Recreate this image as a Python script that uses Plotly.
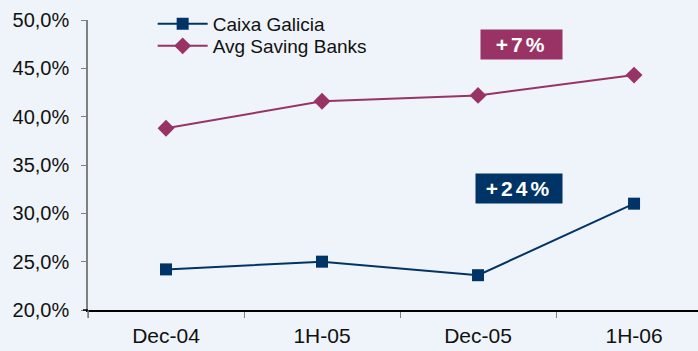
import plotly.graph_objects as go

periods = ["Dec-04", "1H-05", "Dec-05", "1H-06"]
caixa = [24.2, 25.0, 23.6, 31.0]
avg_savings = [38.8, 41.6, 42.2, 44.3]
y_ticks = [20, 25, 30, 35, 40, 45, 50]
y_tick_labels = ["20,0%", "25,0%", "30,0%", "35,0%", "40,0%", "45,0%", "50,0%"]

NAVY = "#003366"
PLUM = "#993366"
FONT = "Liberation Sans, Arial, sans-serif"

fig = go.Figure()
fig.add_trace(go.Scatter(
    x=periods, y=caixa, name="Caixa Galicia", mode="lines+markers",
    line=dict(color=NAVY, width=2),
    marker=dict(symbol="square", size=12, color=NAVY),
    legend="legend",
))
fig.add_trace(go.Scatter(
    x=periods, y=avg_savings, name="Avg Saving Banks", mode="lines+markers",
    line=dict(color=PLUM, width=2),
    marker=dict(symbol="diamond", size=13, color=PLUM),
    legend="legend2",
))

fig.add_annotation(
    x=2.276, y=47.46, xref="x", yref="y", showarrow=False,
    text="<b><span style='letter-spacing:3px'>+7%</span></b>",
    font=dict(family=FONT, size=21, color="white"),
    bgcolor=PLUM, width=75, height=23, borderpad=3,
)
fig.add_annotation(
    x=2.263, y=32.57, xref="x", yref="y", showarrow=False,
    text="<b><span style='letter-spacing:3px'>+24%</span></b>",
    font=dict(family=FONT, size=21, color="white"),
    bgcolor=NAVY, width=80, height=23, borderpad=3,
)

# small axis-line extensions past the origin, as in the reference
fig.add_shape(type="line", xref="paper", yref="paper",
              x0=0, x1=0, y0=0, y1=-8 / 290,
              line=dict(color="#808080", width=1.5))
fig.add_shape(type="line", xref="paper", yref="paper",
              x0=-5 / 610, x1=0, y0=0, y1=0,
              line=dict(color="#000000", width=1.5))

leg_common = dict(
    xanchor="left", yanchor="middle",
    bgcolor="rgba(0,0,0,0)", font=dict(size=19),
    itemwidth=50,
)

fig.update_layout(
    width=698, height=351,
    margin=dict(l=88, r=0, t=20, b=41, autoexpand=False),
    paper_bgcolor="#eef4fa",
    plot_bgcolor="#eef4fa",
    font=dict(family=FONT, size=20, color="#111111"),
    showlegend=True,
    legend=dict(x=0.106, y=1.0 - (24 - 20) / 290, **leg_common),
    legend2=dict(x=0.106, y=1.0 - (46 - 20) / 290, **leg_common),
    xaxis=dict(
        type="category", range=[-0.5, 3.41], automargin=False,
        showline=True, linecolor="#000000", linewidth=1.5,
        ticks="outside", tickson="boundaries", ticklen=6, tickcolor="#808080",
        showgrid=False, zeroline=False,
        tickfont=dict(size=21), ticklabelstandoff=6,
    ),
    yaxis=dict(
        range=[20, 50], tickvals=y_ticks, ticktext=y_tick_labels,
        automargin=False,
        showline=True, linecolor="#808080", linewidth=1.5,
        ticks="outside", ticklen=5, tickcolor="#808080",
        showgrid=False, zeroline=False,
        tickfont=dict(size=20), ticklabelstandoff=8,
    ),
)

fig.write_html("out.html")
